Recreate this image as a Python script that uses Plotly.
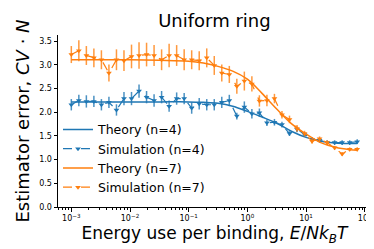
import plotly.graph_objects as go

# Simulation energies (E / N k_B T)
sim_x = [0.001, 0.001343, 0.001804, 0.002424, 0.003257, 0.004375, 0.005878, 0.007897,
         0.01061, 0.01425, 0.01915, 0.02572, 0.03455, 0.04642, 0.06236, 0.08377,
         0.1125, 0.1512, 0.2031, 0.2729, 0.3665, 0.4924, 0.6615, 0.8886,
         1.194, 1.604, 2.154, 2.894, 3.888, 5.223, 7.017, 9.427,
         12.66, 17.01, 22.86, 30.70, 41.25, 55.41, 74.45]

sim4_y = [2.16, 2.25, 2.23, 2.23, 2.16, 2.21, 2.05, 2.29, 2.29, 2.45, 2.32, 2.25, 2.32,
          2.13, 2.29, 2.29, 2.09, 2.18, 2.16, 2.16, 2.21, 2.25, 1.92, 2.11, 1.97, 1.99,
          1.78, 1.79, 1.74, 1.55, 1.64, 1.53, 1.43, 1.41, 1.36, 1.36, 1.36, 1.36, 1.38]
sim4_err = [0.12, 0.12, 0.13, 0.12, 0.12, 0.12, 0.12, 0.14, 0.14, 0.14, 0.13, 0.13, 0.13,
            0.12, 0.13, 0.12, 0.12, 0.12, 0.12, 0.12, 0.12, 0.12, 0.07, 0.12, 0.1, 0.09,
            0.07, 0.07, 0.06, 0.05, 0.06, 0.05, 0.05, 0.05, 0.05, 0.05, 0.05, 0.05, 0.05]

sim7_y = [3.22, 3.30, 3.20, 3.15, 3.11, 2.83, 3.11, 3.09, 3.18, 3.20, 3.22, 3.20, 3.11,
          3.20, 3.20, 3.11, 3.11, 3.09, 3.15, 2.99, 2.83, 2.80, 2.55, 2.66, 2.60, 2.24,
          2.25, 2.29, 1.95, 1.85, 1.66, 1.55, 1.39, 1.44, 1.36, 1.25, 1.12, 1.22, 1.22]
sim7_err = [0.18, 0.22, 0.2, 0.2, 0.2, 0.18, 0.22, 0.22, 0.25, 0.28, 0.25, 0.22, 0.22,
            0.25, 0.22, 0.22, 0.2, 0.2, 0.2, 0.2, 0.18, 0.18, 0.16, 0.2, 0.16, 0.12,
            0.12, 0.1, 0.08, 0.08, 0.07, 0.06, 0.05, 0.05, 0.05, 0.04, 0.04, 0.04, 0.04]

# Theory curves
th_x = [0.001, 0.01, 0.03162, 0.1, 0.1778, 0.3162, 0.5623, 1.0, 1.778, 3.162,
        5.623, 10.0, 17.78, 31.62, 56.23, 74.45]
th4_y = [2.22, 2.22, 2.22, 2.22, 2.21, 2.19, 2.13, 2.02, 1.90, 1.77,
         1.60, 1.47, 1.39, 1.35, 1.34, 1.34]
th7_y = [3.11, 3.11, 3.10, 3.08, 3.04, 2.97, 2.87, 2.70, 2.40, 2.07,
         1.76, 1.54, 1.36, 1.26, 1.21, 1.20]

# Tick labels
x_tickvals = [0.001, 0.01, 0.1, 1, 10, 100]
x_ticktext = ["10<sup>−3</sup>", "10<sup>−2</sup>", "10<sup>−1</sup>",
              "10<sup>0</sup>", "10<sup>1</sup>", "10<sup>2</sup>"]
y_tickvals = [0, 0.5, 1, 1.5, 2, 2.5, 3, 3.5]
y_ticktext = ["0.0", "0.5", "1.0", "1.5", "2.0", "2.5", "3.0", "3.5"]

BLUE = "#1f77b4"
ORANGE = "#ff7f0e"
FONT = "DejaVu Sans"

fig = go.Figure()
fig.add_trace(go.Scatter(x=th_x, y=th4_y, mode="lines", name="Theory (n=4)",
                         line=dict(color=BLUE, width=1.5, shape="spline")))
fig.add_trace(go.Scatter(x=sim_x, y=sim4_y, mode="lines+markers", name="Simulation (n=4)",
                         line=dict(color=BLUE, width=1.2, dash="dash"),
                         marker=dict(symbol="triangle-down", size=5, color=BLUE),
                         error_y=dict(type="data", array=sim4_err, color="rgba(31,119,180,0.8)",
                                      thickness=1.5, width=0)))
fig.add_trace(go.Scatter(x=th_x, y=th7_y, mode="lines", name="Theory (n=7)",
                         line=dict(color=ORANGE, width=1.5, shape="spline")))
fig.add_trace(go.Scatter(x=sim_x, y=sim7_y, mode="lines+markers", name="Simulation (n=7)",
                         line=dict(color=ORANGE, width=1.2, dash="dash"),
                         marker=dict(symbol="triangle-down", size=5, color=ORANGE),
                         error_y=dict(type="data", array=sim7_err, color="rgba(255,127,14,0.8)",
                                      thickness=1.5, width=0)))

fig.update_layout(
    width=374, height=249,
    margin=dict(l=50, r=11, t=27, b=50),
    paper_bgcolor="white", plot_bgcolor="white",
    font=dict(family=FONT, color="black"),
    title=dict(text="Uniform ring", x=0.552, xanchor="center", y=0.925, yanchor="bottom",
               font=dict(size=18, family=FONT)),
    showlegend=True,
    legend=dict(x=0.0, y=0.03, xanchor="left", yanchor="bottom",
                font=dict(size=12.5, family=FONT), bgcolor="rgba(255,255,255,0)",
                tracegroupgap=0, itemwidth=30),
)
fig.update_xaxes(
    type="log", range=[-3.227, 2.107], showgrid=False, zeroline=False,
    showline=True, linecolor="black", linewidth=1,
    ticks="outside", ticklen=3.5, tickwidth=0.8, tickcolor="black",
    tickvals=x_tickvals, ticktext=x_ticktext, tickfont=dict(size=8),
    minor=dict(ticks="outside", ticklen=2, tickwidth=0.6, tickcolor="black", dtick="D1", showgrid=False),
    title=dict(text="Energy use per binding, <i>E</i>/<i>Nk</i><sub><i>B</i></sub><i>T</i>",
               font=dict(size=17), standoff=0),
)
fig.update_yaxes(
    range=[0, 3.633], showgrid=False, zeroline=False,
    showline=True, linecolor="black", linewidth=1,
    ticks="outside", ticklen=3.5, tickwidth=0.8, tickcolor="black",
    tickvals=y_tickvals, ticktext=y_ticktext, tickfont=dict(size=8),
    title=dict(text="Estimator error, <i>CV</i> · <i>N</i>", font=dict(size=18), standoff=4),
)

fig.write_html("out.html")
